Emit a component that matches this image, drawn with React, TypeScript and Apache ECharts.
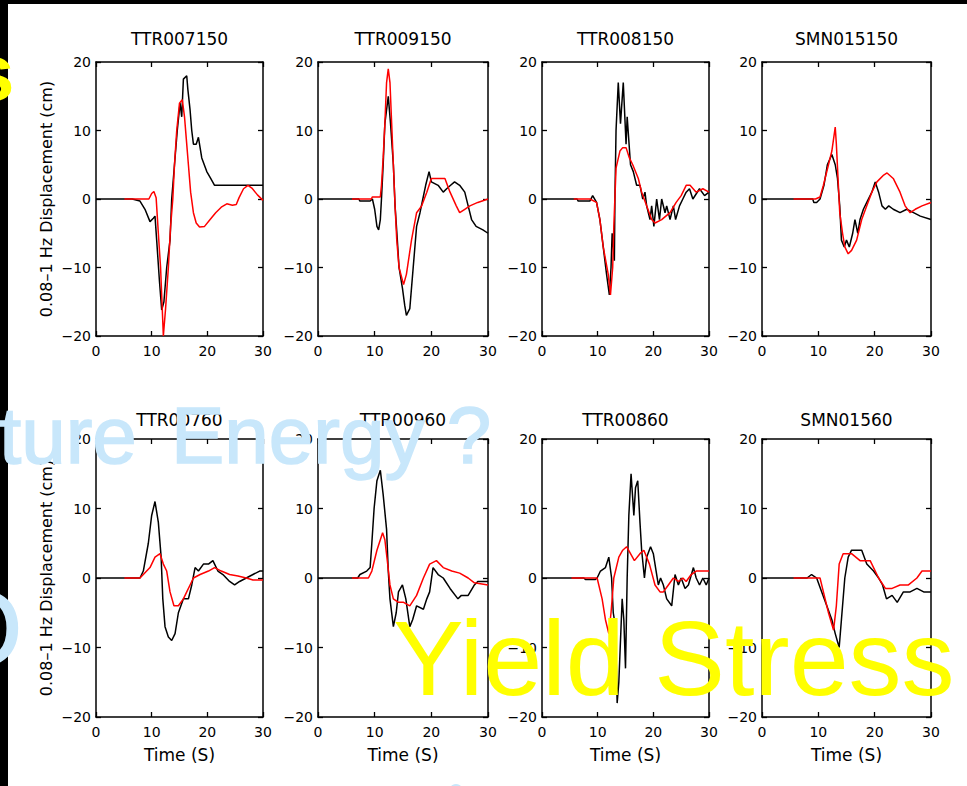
import React, { useEffect, useRef } from 'react';
import * as echarts from 'echarts';

type Pt = [number, number];

const TITLES = ['TTR007150', 'TTR009150', 'TTR008150', 'SMN015150', 'TTR00760', 'TTR00960', 'TTR00860', 'SMN01560'];
const X_MIN = 0, X_MAX = 30, X_STEP = 10;
const Y_MIN = -20, Y_MAX = 20, Y_STEP = 10;
const Y_NAME = '0.08–1 Hz Displacement (cm)';
const X_NAME = 'Time (S)';

const OBS_1: Pt[] = [[0,0],[6.5,0],[7.9,-0.3],[8.8,-1.5],[9.7,-3.3],[10.3,-2.8],[10.6,-2.5],[10.9,-6],[11.4,-12],[11.8,-16.2],[12.2,-15],[12.7,-10],[13.3,-6],[13.6,0],[14.1,5],[14.6,10],[15.1,14],[15.4,12],[15.7,17.5],[16.3,18],[16.5,16],[16.9,13],[17.2,10],[17.5,8],[18.0,8],[18.4,9],[19.0,6],[19.9,4],[20.6,3],[21.3,2],[22.5,2],[24,2],[27,2],[30,2]];
const SYN_1: Pt[] = [[5.1,0],[9.5,0],[10.0,0.8],[10.4,1.1],[10.8,0.2],[11.2,-5],[11.6,-10],[12.1,-20],[12.5,-16],[13.0,-10],[13.4,-4],[13.8,0],[14.1,5],[14.5,10],[15.0,14],[15.5,14.5],[15.9,12],[16.2,9],[16.6,5],[17.0,1],[17.5,-2],[18.0,-3.5],[18.6,-4.1],[19.5,-4],[20.5,-3],[21.5,-2],[22.5,-1.2],[23.5,-0.7],[24.5,-0.9],[25.2,-0.8],[25.7,0.2],[26.5,1.5],[27.3,2],[28.0,1.6],[29.0,0.6],[30,-0.2]];

const OBS_2: Pt[] = [[0,0],[7.2,0],[7.4,-0.3],[9.2,-0.3],[9.6,0],[10.0,-1.5],[10.4,-4],[10.7,-4.5],[11.0,-3],[11.2,0],[11.5,5],[11.8,11],[12.1,13],[12.4,15],[12.8,11],[13.3,5],[13.6,-1],[14.0,-6],[14.3,-10],[14.9,-13],[15.3,-15.5],[15.6,-17],[16.2,-16],[16.8,-10],[17.4,-4],[18.0,-2],[18.5,0],[19.0,2],[19.6,4],[20.0,2.5],[21.2,2],[22.1,1],[22.7,1.5],[23.4,2],[24.1,2.5],[25.0,2],[25.9,1],[26.5,-1],[27.1,-3],[27.9,-4],[29.1,-4.5],[30,-5]];
const SYN_2: Pt[] = [[6,0],[9.4,0],[9.6,0.3],[11.0,0.3],[11.2,2],[11.5,6],[11.8,11],[12.1,17],[12.4,19],[12.7,17],[13.0,11],[13.3,5],[13.6,-1],[13.9,-6],[14.3,-10],[15.1,-12.5],[15.6,-11],[16.5,-6],[17.4,-2],[18.3,-1],[19.2,1],[20.0,3],[21.0,3],[22.4,3],[23.3,1],[24.4,-1],[25.0,-2],[25.9,-1.5],[26.8,-1],[28.2,-0.5],[30,0]];

const OBS_3: Pt[] = [[0,0],[6.3,0],[6.5,-0.3],[8.6,-0.3],[9.1,0.5],[9.8,-0.5],[10.4,-3],[11.0,-7],[11.6,-11],[12.1,-14],[12.4,-10],[12.6,-5],[13.0,-9],[13.1,0],[13.3,10],[13.7,17],[14.1,11],[14.6,17],[15.1,8],[15.3,12],[15.9,5],[16.4,4],[17.0,2],[17.6,2],[18.1,0],[18.5,1],[18.8,-1],[19.4,-3],[19.7,-1],[20.1,-4],[20.6,0],[21.1,-3],[21.5,0],[22.1,-2],[22.4,-1],[23.0,-3],[23.6,-1],[24.0,-3],[24.7,-1],[25.3,0],[25.9,1],[26.5,1.5],[27.1,0],[28.3,1.5],[29.2,0.5],[30,1]];
const SYN_3: Pt[] = [[5.7,0],[8.6,0],[9.8,-0.5],[10.4,-3],[11.0,-7],[11.9,-11],[12.3,-14],[12.7,-10],[12.9,-4],[13.3,4.5],[14.0,7],[14.5,7.5],[15.1,7.5],[15.7,6],[16.3,5],[17.3,3],[17.9,1],[18.8,-1],[19.7,-3],[20.3,-3.5],[21.5,-3],[23.0,-2],[24.1,-0.5],[25.0,0.5],[25.9,2],[26.6,2],[27.7,1],[28.9,1.5],[30,1]];

const OBS_4: Pt[] = [[0,0],[9.0,0],[9.2,-0.5],[9.7,-0.5],[10.3,0],[11.0,2],[11.6,5],[12.4,6.5],[13.0,5],[13.4,3],[13.8,-1],[14.1,-6],[14.6,-7],[15.0,-6],[15.5,-7],[16.1,-5],[16.5,-3],[17.0,-5],[17.4,-3],[18.0,-1.5],[18.6,-0.5],[19.5,1],[20.1,2.5],[20.7,1],[21.3,-1],[21.9,-1.5],[22.5,-1],[23.3,-1.5],[24.5,-2],[25.7,-1.5],[26.9,-2],[28.1,-2.5],[30,-3]];
const SYN_4: Pt[] = [[5.6,0],[9.5,0],[10.3,0.3],[10.9,2],[11.8,5],[12.4,7],[13.0,10.5],[13.2,8],[13.5,3],[13.8,-2],[14.3,-5],[14.7,-7],[15.3,-8],[15.9,-7.5],[16.8,-6],[17.7,-3],[18.6,-1],[19.5,1],[20.4,2.5],[21.6,3.5],[22.2,3.8],[23.3,3],[24.5,1],[25.4,-1],[26.3,-2],[27.2,-1.5],[28.4,-1],[30,-0.5]];

const OBS_5: Pt[] = [[0,0],[7.9,0],[8.5,1],[9.4,5],[10.0,9],[10.6,11],[11.2,8],[11.7,3],[12.0,-3],[12.4,-7],[13.0,-8.5],[13.6,-9],[14.2,-8],[14.8,-5],[15.7,-3],[16.6,-3],[17.2,-1],[17.8,1.5],[18.4,1],[19.3,2],[20.2,2],[21.0,2.5],[21.9,1],[22.8,0.5],[24.0,-0.5],[24.9,-1],[25.8,-0.5],[27.0,0],[28.2,0.5],[29.4,1],[30,1]];
const SYN_5: Pt[] = [[5.1,0],[7.9,0],[8.5,0.5],[9.7,1.5],[10.6,3],[11.5,3.5],[12.1,2],[12.7,1],[13.3,-2],[14.0,-4],[14.8,-4],[15.7,-3],[16.3,-2],[16.9,-1],[17.5,0],[18.7,0.5],[20.2,1],[21.3,1.5],[22.5,1],[24.0,0.5],[25.5,0.3],[27.0,0],[28.2,-0.3],[30,-0.3]];

const OBS_6: Pt[] = [[0,0],[7.0,0],[7.4,0.5],[8.6,1],[9.2,1.5],[9.5,5],[9.9,10],[10.4,14],[11.0,15.5],[11.5,12],[12.1,7],[12.4,1],[12.7,-3],[13.3,-7],[13.8,-5],[14.2,-2],[14.9,-1],[15.5,-3],[16.2,-7],[16.7,-6],[17.4,-4],[18.6,-4.5],[19.2,-3],[19.7,-2],[20.3,1.5],[21.2,0.5],[22.1,0],[23.3,-1.5],[24.7,-3],[25.3,-2.5],[26.5,-2.5],[27.6,-1],[28.2,-0.5],[30,-0.5]];
const SYN_6: Pt[] = [[6,0],[8.9,0],[9.5,1],[10.4,4],[11.4,6.5],[11.8,5.5],[12.3,2],[12.7,-1],[13.3,-3],[14.2,-3.5],[15.1,-3.5],[16.2,-4],[17.4,-2.5],[18.6,0],[19.7,2],[20.9,2.5],[22.1,1.5],[23.6,1],[25.0,0.7],[26.5,0],[27.6,-0.7],[30,-1]];

const OBS_7: Pt[] = [[0,0],[7.5,0],[7.8,-0.2],[9.6,-0.2],[9.9,0],[10.5,1],[11.4,1.5],[12.0,3],[12.5,0],[12.8,-5],[13.2,-7],[13.5,-18],[13.8,-15],[14.4,-3],[14.7,-6],[15.0,-13],[15.3,0],[15.6,9],[16.0,15],[16.5,9],[16.8,13],[17.2,14],[17.6,8],[17.9,4],[18.4,0],[18.8,3],[19.5,4.5],[20.0,3.5],[20.5,1],[20.9,-1],[21.3,0],[21.8,-1],[22.4,-3],[23.3,-4],[23.9,0.5],[24.5,-1],[25.0,0],[25.7,-1.5],[26.3,-1],[27.2,1.5],[27.7,0],[28.3,-1],[28.9,0],[29.5,-1],[30,0]];
const SYN_7: Pt[] = [[5.3,0],[9.9,0],[10.8,-3],[11.4,-6],[12.0,-8],[12.4,-5],[12.9,0],[13.8,3],[14.5,4],[15.2,4.5],[15.9,3.5],[16.6,2.5],[17.6,3.5],[18.3,4],[19.3,2],[20.3,-1],[21.2,-2],[21.8,-2],[22.7,-1],[23.6,0],[24.5,-0.5],[25.3,0],[25.9,-0.5],[26.8,0.5],[27.7,1],[30,1]];

const OBS_8: Pt[] = [[0,0],[8.0,0],[8.8,0.5],[9.7,0],[10.6,-2],[11.5,-4],[12.4,-6],[13.0,-8],[13.7,-10],[14.1,-6],[14.7,0],[15.3,3],[15.9,4],[16.8,4],[17.7,4],[18.6,2],[19.8,1],[20.7,0],[21.4,-1],[22.1,-3],[23.1,-2.5],[24.0,-3.5],[25.1,-2],[26.3,-2],[27.5,-1.5],[28.7,-2],[30,-2]];
const SYN_8: Pt[] = [[5.6,0],[10.3,0],[10.9,-2],[11.8,-5],[12.7,-7.5],[13.2,-4],[13.7,2],[14.4,3.5],[15.9,3.5],[17.4,2.5],[19.2,2.5],[20.7,0],[21.9,-1.5],[23.1,-1.5],[24.5,-1],[26.0,-1],[27.5,0],[28.4,1],[30,1]];

const OBSERVED = [OBS_1, OBS_2, OBS_3, OBS_4, OBS_5, OBS_6, OBS_7, OBS_8];
const SYNTHETIC = [SYN_1, SYN_2, SYN_3, SYN_4, SYN_5, SYN_6, SYN_7, SYN_8];

// layout (pixels)
const COL_LEFT = [96, 318, 542, 762];
const COL_WIDTH = [167, 170, 167, 169];
const ROW_TOP = [62, 439];
const ROW_HEIGHT = [274, 278];
const TITLE_Y = [39, 420];

const FONT = 'DejaVu Sans';
const SANS = 'Liberation Sans';
const BLUE = '#c8e7fb';
const YELLOW = '#ffff00';

const fmt = (v: number) => (v < 0 ? '\u2212' + Math.abs(v) : String(v));

export default function App() {
  const ref = useRef<HTMLDivElement>(null);
  useEffect(() => {
    if (!ref.current) return;
    const chart = echarts.init(ref.current, null, { renderer: 'svg' });
    const grids: any[] = [];
    const xAxes: any[] = [];
    const yAxes: any[] = [];
    const series: any[] = [];
    const graphics: any[] = [];
    for (let i = 0; i < 8; i++) {
      const row = Math.floor(i / 4);
      const col = i % 4;
      grids.push({ left: COL_LEFT[col], top: ROW_TOP[row], width: COL_WIDTH[col], height: ROW_HEIGHT[row], containLabel: false });
      const axLine = { show: true, onZero: false, lineStyle: { color: '#000', width: 1.5 } };
      const tick = { show: true, inside: true, length: 5, lineStyle: { color: '#000', width: 1.3 } };
      xAxes.push({
        type: 'value', gridIndex: i, position: 'bottom', min: X_MIN, max: X_MAX, interval: X_STEP,
        axisLine: axLine, axisTick: tick, splitLine: { show: false },
        axisLabel: { color: '#000', fontFamily: FONT, fontSize: 14, margin: 8, formatter: fmt },
        name: row === 1 ? X_NAME : '', nameLocation: 'middle', nameGap: 29,
        nameTextStyle: { color: '#000', fontFamily: FONT, fontSize: 17 },
      });
      xAxes.push({
        type: 'value', gridIndex: i, position: 'top', min: X_MIN, max: X_MAX, interval: X_STEP,
        axisLine: axLine, axisTick: tick, splitLine: { show: false }, axisLabel: { show: false },
      });
      yAxes.push({
        type: 'value', gridIndex: i, position: 'left', min: Y_MIN, max: Y_MAX, interval: Y_STEP,
        axisLine: axLine, axisTick: tick, splitLine: { show: false },
        axisLabel: { color: '#000', fontFamily: FONT, fontSize: 14, margin: 5, formatter: fmt },
        name: col === 0 ? Y_NAME : '', nameLocation: 'middle', nameGap: 42,
        nameTextStyle: { color: '#000', fontFamily: FONT, fontSize: 16 },
      });
      yAxes.push({
        type: 'value', gridIndex: i, position: 'right', min: Y_MIN, max: Y_MAX, interval: Y_STEP,
        axisLine: axLine, axisTick: tick, splitLine: { show: false }, axisLabel: { show: false },
      });
      series.push({
        type: 'line', xAxisIndex: 2 * i, yAxisIndex: 2 * i, data: OBSERVED[i], symbol: 'none', showSymbol: false,
        lineStyle: { color: '#000', width: 1.5 }, clip: true, z: 2,
      });
      series.push({
        type: 'line', xAxisIndex: 2 * i, yAxisIndex: 2 * i, data: SYNTHETIC[i], symbol: 'none', showSymbol: false,
        lineStyle: { color: '#ff0000', width: 1.5 }, clip: true, z: 3,
      });
      graphics.push({
        type: 'text', z: 5,
        style: {
          text: TITLES[i], x: COL_LEFT[col] + COL_WIDTH[col] / 2, y: TITLE_Y[row],
          fill: '#000', fontFamily: FONT, fontSize: 17,
          textAlign: 'center', textVerticalAlign: 'middle', align: 'center', verticalAlign: 'middle',
        },
      });
    }
    // slide frame and overlay words
    graphics.push({ type: 'rect', z: 1, shape: { x: 0, y: 0, width: 8, height: 786 }, style: { fill: '#000' } });
    graphics.push({ type: 'rect', z: 1, shape: { x: 0, y: 0, width: 967, height: 4 }, style: { fill: '#000' } });
    const word = (text: string, x: number, y: number, size: number, color: string, weight = 'normal', sw = 0) => ({
      type: 'text', z: 100,
      style: {
        text, x, y, fill: color, fontFamily: SANS, fontSize: size, fontWeight: weight,
        stroke: sw > 0 ? color : undefined, lineWidth: sw,
        textAlign: 'left', textVerticalAlign: 'middle', align: 'left', verticalAlign: 'middle',
      },
    });
    graphics.push(word('s', -30, 72, 80, YELLOW, 'bold'));
    graphics.push(word('ture', -1, 435, 80, BLUE, 'normal', 1.5));
    graphics.push(word('Energy ?', 171, 435, 80, BLUE, 'normal', 1.5));
    graphics.push(word('O', -60, 628, 106, BLUE, 'normal', 1.5));
    graphics.push(word('Yield Stress', 393, 658, 106, YELLOW));
    graphics.push({ type: 'circle', z: 100, shape: { cx: 456, cy: 791, r: 7 }, style: { fill: BLUE } });

    chart.setOption({
      animation: false,
      backgroundColor: '#fff',
      grid: grids,
      xAxis: xAxes,
      yAxis: yAxes,
      series,
      graphic: graphics,
    });
    return () => chart.dispose();
  }, []);
  return <div ref={ref} style={{ position: 'fixed', left: 0, top: 0, width: 967, height: 786 }} />;
}
